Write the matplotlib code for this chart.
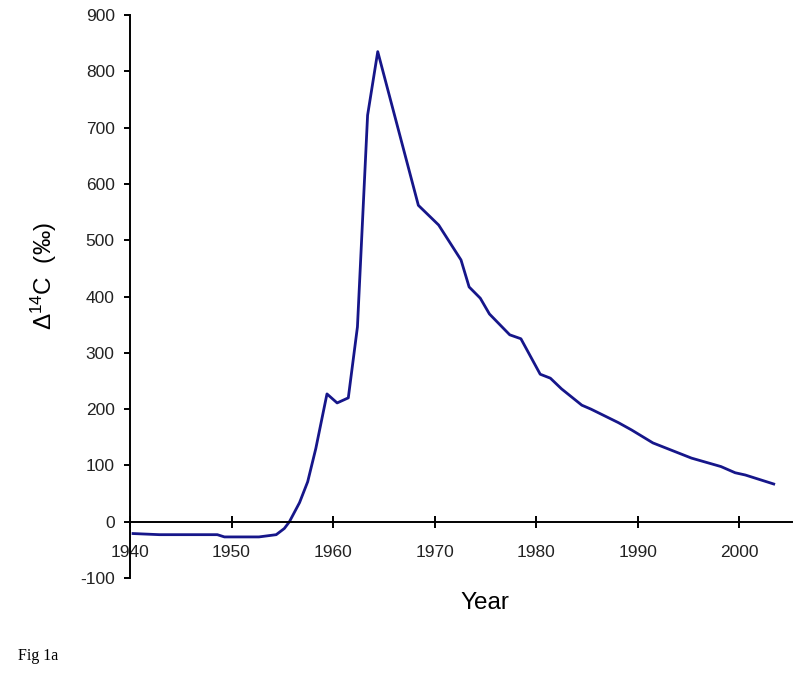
#!/usr/bin/env python3
"""
Atmospheric bomb-curve of radiocarbon (Fig 1a)
"""

import matplotlib
matplotlib.use('Agg')
import matplotlib.pyplot as plt

# Data
years = [1940.3, 1942.9, 1948.6, 1949.3, 1952.7, 1954.4, 1955.2, 1955.7,
         1956.7, 1957.5, 1958.3, 1959.4, 1960.4, 1961.5, 1962.4, 1963.4,
         1964.4, 1968.4, 1970.4, 1972.6, 1973.4, 1974.5, 1975.4, 1977.4,
         1978.5, 1980.4, 1981.4, 1982.5, 1984.5, 1985.4, 1988.1, 1989.4,
         1991.5, 1995.3, 1998.2, 1999.6, 2000.6, 2003.4]
d14c = [-21, -23, -23, -27, -27, -23, -12, 0,
        34, 71, 130, 227, 211, 220, 346, 722,
        835, 562, 527, 465, 417, 397, 369, 332,
        325, 262, 255, 236, 207, 200, 176, 163,
        140, 113, 98, 87, 83, 67]

x_ticks = [1940, 1950, 1960, 1970, 1980, 1990, 2000]
y_ticks = [-100, 0, 100, 200, 300, 400, 500, 600, 700, 800, 900]


def create_plot():
    plt.rcParams['font.family'] = ['Liberation Sans', 'DejaVu Sans']
    plt.rcParams['mathtext.fontset'] = 'custom'
    plt.rcParams['mathtext.rm'] = 'Liberation Sans'
    plt.rcParams['mathtext.default'] = 'regular'
    plt.rcParams['axes.unicode_minus'] = False

    fig = plt.figure(figsize=(8, 6.74), dpi=100)
    ax = fig.add_axes([0.1625, 0.1424, 0.8275, 0.8353])

    ax.plot(years, d14c, color='#16168a', linewidth=2.0, solid_joinstyle='round')

    ax.set_xlim(1940, 2005.2)
    ax.set_ylim(-100, 900)
    ax.set_xticks(x_ticks)
    ax.set_yticks(y_ticks)

    # axis styling: y-axis on left, x-axis drawn at zero
    ax.spines['top'].set_visible(False)
    ax.spines['right'].set_visible(False)
    ax.spines['bottom'].set_position(('data', 0))
    ax.spines['left'].set_linewidth(1.4)
    ax.spines['bottom'].set_linewidth(1.4)

    ax.tick_params(axis='y', direction='out', length=4, width=1.4,
                   labelsize=12.5, pad=7, labelcolor='#222222')
    ax.tick_params(axis='x', direction='inout', length=9, width=1.4,
                   labelsize=12.5, pad=12, labelcolor='#222222')

    fig.text(485 / 800, 1 - 603 / 674, 'Year', ha='center', va='center', fontsize=17.5)
    fig.text(44 / 800, 1 - 276 / 674, r'$\Delta^{14}$C  (‰)', ha='center', va='center',
             rotation=90, fontsize=17.5)
    fig.text(18 / 800, 1 - 656 / 674, 'Fig 1a', ha='left', va='center',
             fontsize=11.5, family=['Liberation Serif', 'DejaVu Serif'])

    fig.savefig('out.png', dpi=100)
    plt.close(fig)


if __name__ == '__main__':
    create_plot()
